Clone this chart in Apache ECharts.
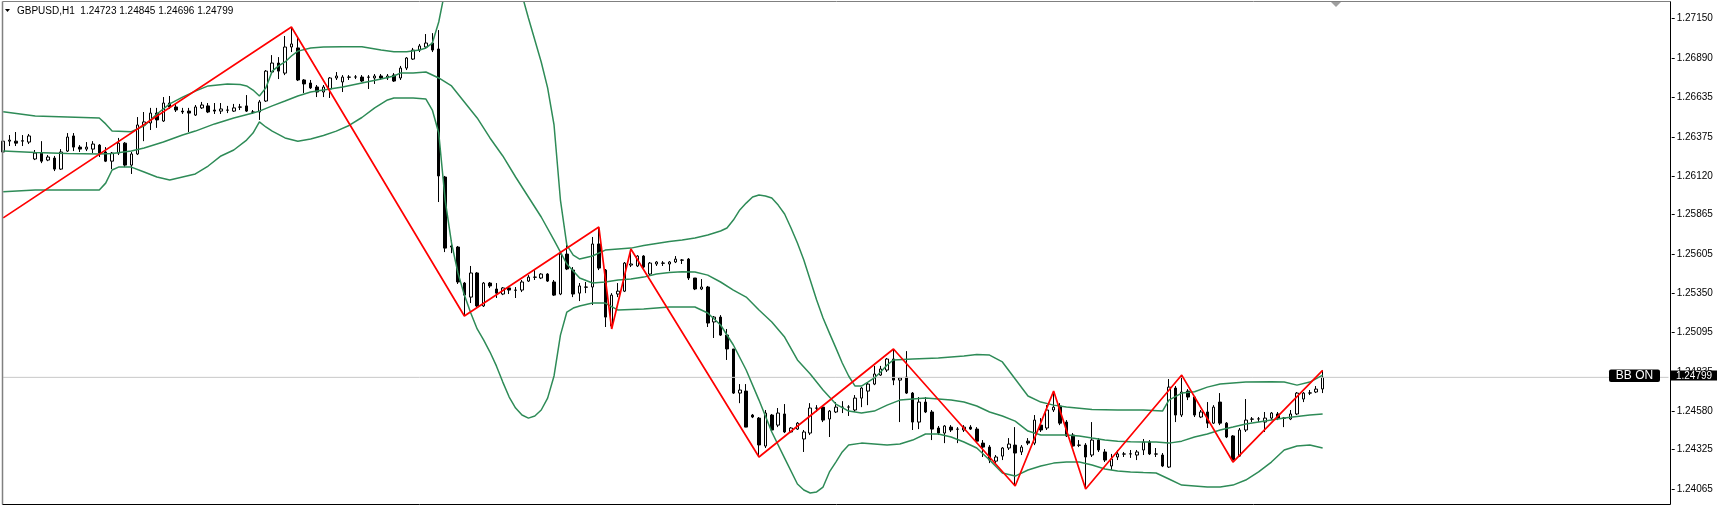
<!DOCTYPE html>
<html><head><meta charset="utf-8">
<script src="https://cdn.jsdelivr.net/npm/echarts@6/dist/echarts.min.js"></script>
<style>html,body{margin:0;padding:0;background:#fff}#c{width:1720px;height:506px}</style>
</head><body><div id="c"></div>
<script>
// ---- data (GBPUSD H1) ----
const symbolName = 'GBPUSD,H1';
const categories = Array.from({length: 261}, (_, i) => i); // bar slots (207 bars + right shift space)
const yTicks = [1.27150,1.26890,1.26635,1.26375,1.26120,1.25865,1.25605,1.25350,1.25095,1.24835,1.24580,1.24325,1.24065];

const opens = [1.26276,1.26347,1.26347,1.26347,1.26341,1.26230,1.26269,1.26223,1.26236,1.26164,
1.26282,1.26381,1.26308,1.26295,1.26295,1.26321,1.26276,1.26216,1.26269,1.26334,
1.26190,1.26263,1.26453,1.26466,1.26531,1.26479,1.26597,1.26571,1.26544,1.26544,
1.26518,1.26565,1.26578,1.26551,1.26544,1.26551,1.26544,1.26571,1.26578,1.26538,
1.26538,1.26610,1.26800,1.26859,1.26793,1.26964,1.26958,1.26748,1.26728,1.26702,
1.26669,1.26689,1.26761,1.26735,1.26767,1.26767,1.26767,1.26767,1.26761,1.26774,
1.26761,1.26780,1.26761,1.26826,1.26885,1.26944,1.26964,1.26990,1.26951,1.26112,
1.25660,1.25653,1.25417,1.25325,1.25483,1.25267,1.25417,1.25378,1.25345,1.25385,
1.25371,1.25371,1.25430,1.25456,1.25450,1.25476,1.25424,1.25345,1.25607,1.25502,
1.25351,1.25391,1.25391,1.25673,1.25502,1.25136,1.25345,1.25364,1.25535,1.25529,
1.25594,1.25476,1.25542,1.25548,1.25542,1.25555,1.25568,1.25574,1.25450,1.25378,
1.25391,1.25162,1.25194,1.25076,1.24985,1.24696,1.24709,1.24552,1.24532,1.24349,
1.24552,1.24486,1.24559,1.24441,1.24460,1.24395,1.24434,1.24598,1.24604,1.24526,
1.24572,1.24604,1.24604,1.24585,1.24663,1.24709,1.24755,1.24814,1.24847,1.24919,
1.24781,1.24801,1.24696,1.24506,1.24637,1.24572,1.24467,1.24434,1.24473,1.24460,
1.24454,1.24473,1.24460,1.24368,1.24342,1.24250,1.24283,1.24336,1.24355,1.24310,
1.24381,1.24368,1.24486,1.24467,1.24585,1.24611,1.24506,1.24421,1.24355,1.24355,
1.24290,1.24388,1.24310,1.24218,1.24277,1.24297,1.24297,1.24290,1.24323,1.24375,
1.24297,1.24290,1.24211,1.24729,1.24552,1.24709,1.24670,1.24539,1.24572,1.24499,
1.24637,1.24499,1.24415,1.24283,1.24454,1.24526,1.24526,1.24506,1.24532,1.24559,
1.24532,1.24526,1.24559,1.24657,1.24696,1.24703,1.24723];

const closes = [1.26347,1.26354,1.26334,1.26350,1.26381,1.26269,1.26216,1.26243,1.26164,1.26276,
1.26374,1.26308,1.26295,1.26308,1.26328,1.26269,1.26216,1.26269,1.26334,1.26190,
1.26263,1.26453,1.26473,1.26531,1.26486,1.26597,1.26571,1.26551,1.26538,1.26531,
1.26571,1.26584,1.26538,1.26544,1.26558,1.26550,1.26565,1.26570,1.26544,1.26537,
1.26604,1.26806,1.26859,1.26806,1.26964,1.26984,1.26748,1.26722,1.26696,1.26669,
1.26702,1.26761,1.26774,1.26767,1.26766,1.26768,1.26741,1.26766,1.26774,1.26761,
1.26774,1.26741,1.26826,1.26892,1.26944,1.26971,1.26990,1.26944,1.26119,1.25646,
1.25653,1.25424,1.25338,1.25483,1.25267,1.25417,1.25398,1.25351,1.25385,1.25371,
1.25370,1.25424,1.25456,1.25455,1.25476,1.25430,1.25338,1.25607,1.25509,1.25345,
1.25398,1.25390,1.25673,1.25515,1.25194,1.25338,1.25364,1.25548,1.25542,1.25594,
1.25522,1.25548,1.25555,1.25547,1.25555,1.25574,1.25567,1.25450,1.25378,1.25391,
1.25155,1.25194,1.25076,1.24985,1.24696,1.24716,1.24473,1.24539,1.24356,1.24565,
1.24454,1.24565,1.24441,1.24467,1.24499,1.24441,1.24598,1.24597,1.24519,1.24578,
1.24604,1.24603,1.24605,1.24663,1.24729,1.24755,1.24821,1.24854,1.24919,1.24781,
1.24795,1.24696,1.24506,1.24637,1.24572,1.24460,1.24434,1.24480,1.24454,1.24459,
1.24473,1.24460,1.24381,1.24342,1.24257,1.24277,1.24336,1.24362,1.24303,1.24342,
1.24368,1.24519,1.24454,1.24585,1.24604,1.24499,1.24415,1.24349,1.24354,1.24277,
1.24388,1.24323,1.24257,1.24264,1.24297,1.24296,1.24298,1.24310,1.24375,1.24297,
1.24296,1.24218,1.24735,1.24552,1.24703,1.24670,1.24552,1.24572,1.24499,1.24604,
1.24499,1.24408,1.24257,1.24454,1.24519,1.24525,1.24527,1.24532,1.24565,1.24532,
1.24531,1.24559,1.24696,1.24696,1.24697,1.24722,1.24799];

const lows = [1.26256,1.26315,1.26315,1.26315,1.26328,1.26223,1.26203,1.26216,1.26151,1.26158,
1.26276,1.26282,1.26276,1.26282,1.26269,1.26243,1.26210,1.26164,1.26256,1.26177,
1.26132,1.26256,1.26347,1.26420,1.26434,1.26473,1.26558,1.26538,1.26525,1.26407,
1.26512,1.26558,1.26531,1.26525,1.26525,1.26531,1.26538,1.26551,1.26538,1.26525,
1.26486,1.26604,1.26787,1.26754,1.26780,1.26931,1.26741,1.26662,1.26689,1.26636,
1.26636,1.26630,1.26748,1.26669,1.26748,1.26754,1.26735,1.26689,1.26722,1.26748,
1.26748,1.26735,1.26748,1.26813,1.26879,1.26931,1.26951,1.26931,1.25948,1.25620,
1.25613,1.25411,1.25201,1.25286,1.25260,1.25260,1.25385,1.25319,1.25338,1.25345,
1.25319,1.25358,1.25424,1.25437,1.25443,1.25424,1.25332,1.25338,1.25502,1.25325,
1.25299,1.25351,1.25273,1.25502,1.25129,1.25116,1.25325,1.25358,1.25522,1.25522,
1.25515,1.25469,1.25529,1.25529,1.25495,1.25548,1.25542,1.25437,1.25371,1.25371,
1.25129,1.25057,1.25070,1.24913,1.24690,1.24630,1.24519,1.24532,1.24277,1.24336,
1.24441,1.24473,1.24434,1.24434,1.24454,1.24310,1.24421,1.24572,1.24506,1.24408,
1.24565,1.24565,1.24546,1.24572,1.24604,1.24617,1.24748,1.24808,1.24834,1.24748,
1.24506,1.24690,1.24454,1.24460,1.24565,1.24388,1.24421,1.24368,1.24441,1.24368,
1.24441,1.24454,1.24368,1.24277,1.24237,1.24237,1.24257,1.24323,1.24087,1.24290,
1.24355,1.24355,1.24441,1.24454,1.24572,1.24486,1.24408,1.24342,1.24342,1.24067,
1.24277,1.24310,1.24244,1.24192,1.24257,1.24277,1.24271,1.24257,1.24290,1.24290,
1.24277,1.24211,1.24205,1.24506,1.24539,1.24650,1.24539,1.24532,1.24467,1.24493,
1.24486,1.24401,1.24244,1.24277,1.24441,1.24506,1.24506,1.24441,1.24519,1.24519,
1.24473,1.24519,1.24552,1.24637,1.24683,1.24696,1.24696];

const highs = [1.26368,1.26387,1.26407,1.26387,1.26394,1.26289,1.26347,1.26256,1.26250,1.26295,
1.26400,1.26400,1.26321,1.26341,1.26347,1.26328,1.26308,1.26276,1.26368,1.26341,
1.26276,1.26505,1.26538,1.26565,1.26565,1.26636,1.26643,1.26597,1.26565,1.26565,
1.26584,1.26604,1.26597,1.26597,1.26597,1.26578,1.26591,1.26591,1.26649,1.26551,
1.26617,1.26813,1.26911,1.26898,1.27036,1.27095,1.27029,1.26754,1.26748,1.26715,
1.26715,1.26767,1.26800,1.26780,1.26780,1.26780,1.26780,1.26780,1.26787,1.26787,
1.26787,1.26793,1.26840,1.26898,1.26958,1.26984,1.27049,1.27055,1.27075,1.26119,
1.25699,1.25660,1.25424,1.25529,1.25489,1.25424,1.25424,1.25417,1.25391,1.25398,
1.25391,1.25437,1.25469,1.25502,1.25482,1.25482,1.25437,1.25613,1.25692,1.25522,
1.25417,1.25424,1.25719,1.25784,1.25509,1.25351,1.25417,1.25555,1.25640,1.25600,
1.25600,1.25555,1.25561,1.25561,1.25561,1.25594,1.25574,1.25581,1.25450,1.25443,
1.25398,1.25201,1.25207,1.25116,1.24985,1.24755,1.24755,1.24559,1.24539,1.24585,
1.24559,1.24598,1.24624,1.24473,1.24506,1.24454,1.24630,1.24617,1.24611,1.24585,
1.24637,1.24643,1.24617,1.24683,1.24735,1.24768,1.24874,1.24874,1.24926,1.24985,
1.24801,1.24971,1.24703,1.24670,1.24670,1.24585,1.24480,1.24486,1.24486,1.24473,
1.24486,1.24486,1.24473,1.24388,1.24355,1.24290,1.24342,1.24401,1.24473,1.24355,
1.24401,1.24552,1.24532,1.24617,1.24709,1.24630,1.24519,1.24434,1.24388,1.24368,
1.24506,1.24401,1.24329,1.24297,1.24323,1.24310,1.24323,1.24323,1.24395,1.24388,
1.24336,1.24303,1.24788,1.24742,1.24814,1.24722,1.24677,1.24585,1.24637,1.24617,
1.24696,1.24506,1.24421,1.24467,1.24657,1.24539,1.24539,1.24572,1.24572,1.24572,
1.24539,1.24585,1.24703,1.24703,1.24716,1.24742,1.24845];

// Bollinger Bands: [bar index, price]
const bbUpper = [[0,1.26540],[5,1.26512],[10,1.26505],[15,1.26499],[16,1.26460],[17,1.26413],[20,1.26409],[22,1.26447],[24,1.26525],[26,1.26591],[28,1.26636],[30,1.26675],[32,1.26709],[35,1.26722],[37,1.26718],[38,1.26709],[39,1.26682],[40,1.26643],[41,1.26696],[42,1.26806],[43,1.26840],[44,1.26866],[45,1.26905],[46,1.26937],[48,1.26958],[50,1.26964],[53,1.26966],[56,1.26966],[59,1.26944],[61,1.26933],[63,1.26933],[65,1.26944],[66,1.26958],[67,1.26990],[68,1.27128],[69,1.27338],[70,1.27501],[72,1.27764],[74,1.27927],[76,1.27960],[78,1.27862],[80,1.27534],[81,1.27305],[82,1.27154],[83,1.27010],[84,1.26866],[85,1.26696],[86,1.26453],[87,1.25961],[88,1.25666],[89,1.25600],[90,1.25574],[92,1.25594],[94,1.25633],[96,1.25640],[98,1.25646],[100,1.25663],[102,1.25676],[104,1.25689],[106,1.25699],[108,1.25712],[110,1.25732],[112,1.25758],[113,1.25778],[114,1.25830],[115,1.25896],[116,1.25941],[117,1.25981],[118,1.25994],[119,1.25988],[120,1.25974],[121,1.25928],[122,1.25870],[123,1.25778],[124,1.25679],[125,1.25568],[126,1.25437],[127,1.25306],[128,1.25188],[129,1.25089],[130,1.24992],[131,1.24893],[132,1.24808],[133,1.24742],[134,1.24742],[135,1.24768],[136,1.24795],[137,1.24834],[138,1.24880],[139,1.24913],[142,1.24919],[146,1.24926],[150,1.24939],[152,1.24949],[154,1.24945],[156,1.24900],[158,1.24788],[160,1.24677],[162,1.24637],[164,1.24617],[166,1.24604],[170,1.24588],[174,1.24585],[178,1.24585],[181,1.24578],[182,1.24650],[184,1.24696],[186,1.24705],[188,1.24735],[190,1.24755],[194,1.24768],[198,1.24770],[200,1.24768],[202,1.24748],[204,1.24768],[206,1.24814]];

const bbMiddle = [[0,1.26282],[5,1.26273],[10,1.26266],[15,1.26263],[17,1.26266],[20,1.26282],[22,1.26302],[25,1.26341],[28,1.26387],[30,1.26413],[33,1.26460],[36,1.26499],[39,1.26531],[40,1.26544],[42,1.26578],[44,1.26610],[46,1.26643],[48,1.26669],[50,1.26682],[53,1.26702],[56,1.26728],[59,1.26754],[61,1.26774],[62,1.26793],[64,1.26793],[66,1.26800],[68,1.26761],[70,1.26709],[72,1.26604],[74,1.26499],[76,1.26368],[78,1.26250],[80,1.26112],[82,1.25981],[84,1.25850],[86,1.25699],[88,1.25542],[90,1.25450],[92,1.25417],[94,1.25424],[96,1.25437],[98,1.25443],[100,1.25456],[102,1.25476],[104,1.25486],[106,1.25491],[108,1.25489],[110,1.25469],[112,1.25424],[114,1.25371],[116,1.25325],[118,1.25240],[120,1.25162],[122,1.25063],[124,1.24913],[126,1.24821],[128,1.24716],[130,1.24624],[132,1.24578],[134,1.24565],[136,1.24578],[138,1.24617],[140,1.24650],[142,1.24657],[144,1.24663],[146,1.24657],[148,1.24650],[150,1.24637],[152,1.24611],[154,1.24572],[156,1.24546],[158,1.24512],[160,1.24447],[162,1.24421],[164,1.24421],[166,1.24421],[168,1.24415],[170,1.24401],[172,1.24388],[174,1.24381],[176,1.24377],[178,1.24375],[180,1.24375],[182,1.24368],[184,1.24381],[186,1.24408],[188,1.24428],[190,1.24454],[192,1.24473],[194,1.24493],[196,1.24506],[198,1.24519],[200,1.24532],[202,1.24542],[204,1.24552],[206,1.24559]];

const bbLower = [[0,1.26016],[5,1.26027],[10,1.26027],[15,1.26027],[16,1.26072],[17,1.26158],[18,1.26177],[20,1.26177],[22,1.26145],[24,1.26112],[26,1.26092],[28,1.26112],[30,1.26132],[32,1.26184],[34,1.26250],[36,1.26289],[38,1.26354],[39,1.26400],[40,1.26473],[41,1.26440],[42,1.26413],[44,1.26368],[46,1.26347],[48,1.26361],[50,1.26384],[52,1.26413],[54,1.26450],[56,1.26502],[58,1.26565],[60,1.26617],[61,1.26630],[62,1.26630],[64,1.26630],[66,1.26623],[67,1.26551],[68,1.26400],[69,1.25961],[70,1.25679],[71,1.25483],[72,1.25338],[73,1.25221],[74,1.25116],[75,1.25044],[76,1.24965],[77,1.24874],[78,1.24768],[79,1.24670],[80,1.24598],[81,1.24552],[82,1.24532],[83,1.24546],[84,1.24585],[85,1.24663],[86,1.24808],[87,1.25076],[88,1.25227],[89,1.25253],[90,1.25267],[92,1.25286],[94,1.25286],[96,1.25240],[100,1.25247],[104,1.25260],[108,1.25260],[110,1.25221],[112,1.25142],[114,1.25011],[116,1.24847],[118,1.24650],[120,1.24441],[122,1.24270],[124,1.24100],[125,1.24061],[126,1.24041],[127,1.24048],[128,1.24080],[129,1.24179],[130,1.24244],[131,1.24310],[132,1.24355],[134,1.24368],[136,1.24362],[138,1.24355],[140,1.24362],[142,1.24388],[144,1.24428],[146,1.24428],[148,1.24408],[150,1.24375],[152,1.24336],[154,1.24257],[156,1.24172],[158,1.24152],[160,1.24192],[162,1.24218],[164,1.24237],[166,1.24244],[168,1.24244],[170,1.24224],[172,1.24198],[174,1.24185],[176,1.24179],[178,1.24175],[180,1.24172],[182,1.24133],[184,1.24093],[186,1.24087],[188,1.24080],[190,1.24080],[192,1.24093],[194,1.24126],[196,1.24179],[198,1.24244],[200,1.24323],[202,1.24349],[204,1.24355],[206,1.24336]];

// ZigZag pivots: [bar index, price]
const zigzag = [[0,1.25844],[45,1.27095],[72,1.25201],[93,1.25784],[95,1.25116],[98,1.25640],[118,1.24277],[139,1.24985],[158,1.24087],[164,1.24709],[169,1.24067],[184,1.24814],[192,1.24244],[206,1.24845]];

// ---- chart ----
const last = opens.length - 1;
const fmt = v => v.toFixed(5);
const FONT = '"Liberation Sans", Arial, sans-serif';
const candles = opens.map((o, i) => [o, closes[i], lows[i], highs[i]]);
const bidLine = [[0, closes[last]], [categories.length - 1, closes[last]]];

const chart = echarts.init(document.getElementById('c'), null, {renderer: 'canvas'});
const BB = '#2e8b57';
const Z = 100;
chart.setOption({
  animation: false,
  backgroundColor: '#ffffff',
  grid: {left: 0, top: 2, width: 1671.7, height: 502, show: false},
  xAxis: {
    type: 'category', data: categories, boundaryGap: true,
    axisLine: {show: false}, axisTick: {show: false}, axisLabel: {show: false}, splitLine: {show: false}
  },
  yAxis: {
    type: 'value', position: 'right', min: 1.23969, max: 1.27259, scale: true,
    axisLine: {show: false}, splitLine: {show: false},
    axisTick: {show: true, length: 3, customValues: yTicks, lineStyle: {color: '#000'}},
    axisLabel: {show: true, customValues: yTicks, margin: 5, color: '#000', fontSize: 10, fontFamily: FONT, formatter: fmt}
  },
  series: [
    {type: 'line', data: bidLine, symbol: 'none', silent: true, lineStyle: {color: '#c8c8c8', width: 1}},
    {
      type: 'candlestick', data: candles, barWidth: 3, clip: true,
      itemStyle: {color: '#ffffff', color0: '#000000', borderColor: '#000000', borderColor0: '#000000', borderWidth: 1}
    },
    {type: 'line', data: bbUpper, symbol: 'none', clip: true, lineStyle: {color: BB, width: 1.5}},
    {type: 'line', data: bbMiddle, symbol: 'none', clip: true, lineStyle: {color: BB, width: 1.5}},
    {type: 'line', data: bbLower, symbol: 'none', clip: true, lineStyle: {color: BB, width: 1.5}},
    {type: 'line', data: zigzag, symbol: 'none', clip: true, lineStyle: {color: '#ff0000', width: 1.7}}
  ],
  graphic: [
    // frame
    {type: 'line', z: Z, shape: {x1: 2.5, y1: 1.5, x2: 1670.5, y2: 1.5}, style: {stroke: '#808080', lineWidth: 1}},
    {type: 'line', z: Z, shape: {x1: 2.5, y1: 1.5, x2: 2.5, y2: 504.5}, style: {stroke: '#808080', lineWidth: 1.5}},
    {type: 'line', z: Z, shape: {x1: 1670.5, y1: 1.5, x2: 1670.5, y2: 504.5}, style: {stroke: '#000000', lineWidth: 1}},
    {type: 'line', z: Z, shape: {x1: 2.5, y1: 504.5, x2: 1670.5, y2: 504.5}, style: {stroke: '#000000', lineWidth: 1}},
    // chart shift marker
    {type: 'polygon', z: Z, shape: {points: [[1331, 2], [1341, 2], [1336, 7]]}, style: {fill: '#a0a0a0'}},
    // title
    {type: 'polygon', z: Z, shape: {points: [[5, 9], [10, 9], [7.5, 12]]}, style: {fill: '#000'}},
    {type: 'text', z: Z, x: 17, y: 11, style: {
      text: symbolName + '  ' + fmt(opens[last]) + ' ' + fmt(highs[last]) + ' ' + fmt(lows[last]) + ' ' + fmt(closes[last]),
      fill: '#000', font: '10px ' + FONT, verticalAlign: 'middle', align: 'left'}},
    // BB ON label
    {type: 'rect', z: Z, shape: {x: 1609, y: 369.5, width: 51, height: 12.5, r: 2}, style: {fill: '#000'}},
    {type: 'text', z: Z + 1, x: 1634.5, y: 376, style: {text: 'BB ON', fill: '#fff', font: '12px ' + FONT, align: 'center', verticalAlign: 'middle'}},
    // bid price label
    {type: 'rect', z: Z, shape: {x: 1671, y: 370.5, width: 46, height: 10}, style: {fill: '#000'}},
    {type: 'text', z: Z + 1, x: 1694, y: 375.8, style: {text: fmt(closes[last]), fill: '#fff', font: '10px ' + FONT, align: 'center', verticalAlign: 'middle'}}
  ]
});
</script>
</body></html>
